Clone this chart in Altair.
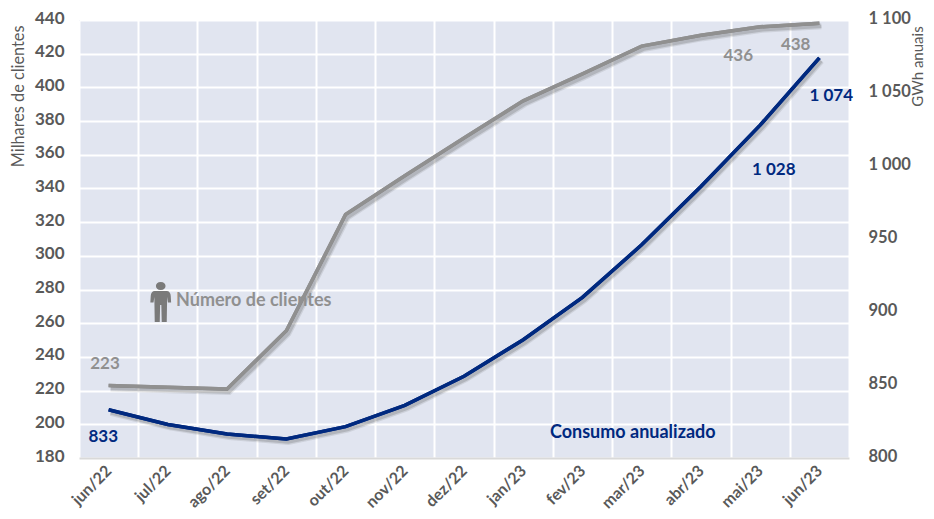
import altair as alt
import pandas as pd

months = ["jun/22","jul/22","ago/22","set/22","out/22","nov/22","dez/22","jan/23","fev/23","mar/23","abr/23","mai/23","jun/23"]
clientes = [223,222,221,255.5,324.5,347.5,370,392,408,424.5,431,436,438]
consumo = [833,823,816.5,813,821.5,836,856,881,910,946,986,1028,1074]

ann_text = ["223","833","Número de clientes","Consumo anualizado","436","438","1 028","1 074"]
ann_x = [-0.06,-0.09,2.45,8.85,10.63,11.6,11.23,12.2]
ann_y = [236.0,192.6,273.4,195.0,418.8,425.4,351.2,395.1]
ann_series = ["g","b","g","b","g","g","b","b"]
ann_size = [17,17,18,18,17,17,17,17]

icon_x = [0.88]
icon_y = [272.6]
person = ("M0,-1 C0.16,-1 0.24,-0.9 0.24,-0.8 C0.24,-0.7 0.16,-0.6 0,-0.6 C-0.16,-0.6 -0.24,-0.7 -0.24,-0.8 "
          "C-0.24,-0.9 -0.16,-1 0,-1 Z M-0.3,-0.55 L0.3,-0.55 C0.42,-0.55 0.5,-0.45 0.5,-0.3 L0.52,0.02 "
          "L0.36,0.02 L0.32,-0.25 L0.3,1 L0.05,1 L0.03,0.15 L-0.03,0.15 L-0.05,1 L-0.3,1 L-0.32,-0.25 "
          "L-0.36,0.02 L-0.52,0.02 L-0.5,-0.3 C-0.5,-0.45 -0.42,-0.55 -0.3,-0.55 Z")

W, H = 770, 438
NAVY = "#00297F"
GREY = "#909090"
FONT = "Lato"
LABEL = "#595959"

df = pd.DataFrame({"m": months, "c": clientes, "e": consumo})
ann = pd.DataFrame({"t": ann_text, "x": ann_x, "y": ann_y, "s": ann_series, "z": ann_size})
icon = pd.DataFrame({"x": icon_x, "y": icon_y})

ydom1 = [180, 440]
ydom2 = [800, 1100]
base = alt.Chart(df)

def shadow(field, dom, dx, dy, width, op):
    return base.mark_line(color="#444444", strokeWidth=width, opacity=op).encode(
        x=alt.X("m:N", sort=months, axis=None, scale=alt.Scale(range=[dx, W + dx], paddingInner=0, paddingOuter=0)),
        y=alt.Y(f"{field}:Q", axis=None, scale=alt.Scale(domain=dom, range=[H + dy, dy])),
    )

def plain(field, dom, color):
    return base.mark_line(color=color, strokeWidth=3.5).encode(
        x=alt.X("m:N", sort=months, axis=None, scale=alt.Scale(paddingInner=0, paddingOuter=0, range=[0, W])),
        y=alt.Y(f"{field}:Q", axis=None, scale=alt.Scale(domain=dom, range=[H, 0], nice=False)),
    )

main_c = base.mark_line(color=GREY, strokeWidth=3.5).encode(
    x=alt.X("m:N", sort=months, title=None, scale=alt.Scale(paddingInner=0, paddingOuter=0, range=[0, W]),
            axis=alt.Axis(grid=True, gridColor="white", gridWidth=2, tickBand="extent", ticks=False,
                          domainColor="#D9D9D9", domainWidth=2, labelAngle=315, labelFont=FONT, labelFontSize=16,
                          labelFontWeight="bold", labelColor=LABEL, labelPadding=10, labelAlign="right",
                          labelBaseline="middle")),
    y=alt.Y("c:Q", scale=alt.Scale(domain=ydom1, range=[H, 0], nice=False),
            axis=alt.Axis(orient="left", values=list(range(180, 441, 20)), grid=True, gridColor="white", gridWidth=2,
                          ticks=False, domain=False, labelFont=FONT, labelFontSize=17, labelFontWeight="bold",
                          labelColor=LABEL, labelPadding=15, labelOffset=-2, title="Milhares de clientes", titleFont=FONT,
                          titleFontSize=16.3, titleFontWeight="normal", titleColor=LABEL, titleAnchor="end",
                          titleX=-53, titleY=5, titleAlign="right")),
)

main_e = base.mark_line(color=NAVY, strokeWidth=3.5).encode(
    x=alt.X("m:N", sort=months, axis=None, scale=alt.Scale(paddingInner=0, paddingOuter=0, range=[0, W])),
    y=alt.Y("e:Q", scale=alt.Scale(domain=ydom2, range=[H, 0], nice=False),
            axis=alt.Axis(orient="right", values=list(range(800, 1101, 50)), grid=False, ticks=False, domain=False,
                          labelFont=FONT, labelFontSize=16.5, labelFontWeight="bold", labelColor=LABEL, labelPadding=19,
                          labelOffset=-2,
                          labelExpr="replace(format(datum.value,'d'),/(\\d)(\\d{3})$/,'$1 $2')",
                          title="GWh anuais", titleFont=FONT, titleFontSize=15, titleFontWeight="normal",
                          titleColor=LABEL, titleAngle=270, titleX=76, titleY=46, titleAlign="center")),
)

ax = alt.X("x:Q", axis=None, scale=alt.Scale(domain=[-0.5, 12.5], range=[0, W], nice=False, zero=False))
ay = alt.Y("y:Q", axis=None, scale=alt.Scale(domain=ydom1, range=[H, 0], nice=False))

labels = alt.Chart(ann).mark_text(font=FONT, fontWeight="bold", align="center", baseline="middle").encode(
    x=ax, y=ay, text="t:N",
    size=alt.Size("z:Q", legend=None, scale=None),
    color=alt.Color("s:N", legend=None, scale=alt.Scale(domain=["g", "b"], range=[GREY, NAVY])),
)
icon_mark = alt.Chart(icon).mark_point(shape=person, size=1600, filled=True, color="#7A7A7A", opacity=1).encode(x=ax, y=ay)

chart = alt.layer(
    main_c,
    shadow("c", ydom1, 2, 3, 6, 0.12),
    shadow("c", ydom1, 2, 3, 3.5, 0.2),
    shadow("e", ydom2, 2, 3, 6, 0.12),
    shadow("e", ydom2, 2, 3, 3.5, 0.2),
    main_e,
    plain("c", ydom1, GREY),
    plain("e", ydom2, NAVY),
    labels,
    icon_mark,
).resolve_scale(x="independent", y="independent", color="independent", size="independent").properties(
    width=W, height=H,
    autosize=alt.AutoSizeParams(type="none"),
    padding={"left": 71, "top": 12, "right": 77, "bottom": 53},
    background="white",
).configure_view(fill="#E1E5F0", stroke=None)

chart.save("out.html", embed_options={"renderer": "svg", "actions": False})
